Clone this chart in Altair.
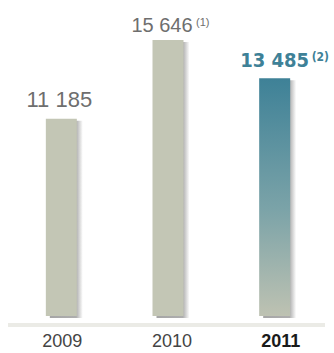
import altair as alt
import pandas as pd

years = ["2009", "2010", "2011"]
values = [11185, 15646, 13485]
labels = ["11 185", "15 646", "13 485"]
notes = ["", "(1)", "(2)"]

df = pd.DataFrame({"year": years, "value": values, "label": labels, "note": notes})

x = alt.X("year:N", sort=years, scale=alt.Scale(paddingInner=0.71, paddingOuter=0.355), axis=None)
y = alt.Y("value:Q", scale=alt.Scale(domain=[0, 17915], nice=False, zero=True), axis=None)

base = alt.Chart(df).encode(x=x, y=y)


def only(yr):
    return base.transform_filter(f"datum.year == '{yr}'")


shadow = base.mark_bar(
    size=33, xOffset=5, yOffset=2,
    color=alt.LinearGradient(gradient="linear", x1=0, y1=0, x2=1, y2=0, stops=[
        alt.GradientStop(color="#8f8f8f", offset=0),
        alt.GradientStop(color="#9a9a9a", offset=0.8),
        alt.GradientStop(color="#ffffff", offset=1)]),
    opacity=0.8,
)

bars = base.transform_filter("datum.year != '2011'").mark_bar(size=31, color="#c3c6b5")

hl = only("2011").mark_bar(
    size=31,
    color=alt.LinearGradient(gradient="linear", x1=0, y1=0, x2=0, y2=1, stops=[
        alt.GradientStop(color="#3e8197", offset=0),
        alt.GradientStop(color="#7ba3a8", offset=0.55),
        alt.GradientStop(color="#bec2b2", offset=1)]),
)

lab09 = only("2009").mark_text(
    dy=-12, dx=-2, font="Liberation Sans", fontSize=22, color="#6e6e6e", baseline="alphabetic"
).encode(text="label:N")

lab10 = only("2010").mark_text(
    dy=-8, dx=-6, font="Liberation Sans", fontSize=20, color="#6e6e6e", baseline="alphabetic"
).encode(text="label:N")

lab11 = only("2011").mark_text(
    dy=-11, dx=0, font="DejaVu Sans Condensed", fontWeight="bold", fontSize=20,
    color="#3e8197", baseline="alphabetic"
).encode(text="label:N")

note1 = only("2010").mark_text(
    dy=-14, dx=28, align="left", font="Liberation Sans", fontSize=11, color="#6e6e6e",
    baseline="alphabetic"
).encode(text="note:N")

note2 = only("2011").mark_text(
    dy=-17, dx=37, align="left", font="DejaVu Sans Condensed", fontWeight="bold", fontSize=12,
    color="#3e8197", baseline="alphabetic"
).encode(text="note:N")

rule = alt.Chart(df).mark_rule(color="#ebebe6", strokeWidth=4).encode(
    x=alt.value(0), x2=alt.value(317), y=alt.value(325)
)

yl09 = only("2009").mark_text(
    dx=1, font="Liberation Sans", fontSize=18, color="#444444", baseline="alphabetic"
).encode(y=alt.value(347), text="year:N")
yl10 = only("2010").mark_text(
    dx=4, font="Liberation Sans", fontSize=18, color="#444444", baseline="alphabetic"
).encode(y=alt.value(347), text="year:N")
yl11 = only("2011").mark_text(
    dx=6, font="Liberation Sans", fontWeight="bold", fontSize=18, color="#1a1a1a",
    baseline="alphabetic"
).encode(y=alt.value(347), text="year:N")

chart = alt.layer(
    shadow, bars, hl, lab09, lab10, lab11, note1, note2, rule, yl09, yl10, yl11
).properties(
    width=320, height=316,
    background="white",
    autosize=alt.AutoSizeParams(type="none"),
    padding={"left": 8, "top": 0, "right": 6, "bottom": 37},
).configure_view(stroke=None)

chart.save("out.html", embed_options={"renderer": "svg", "actions": False})
